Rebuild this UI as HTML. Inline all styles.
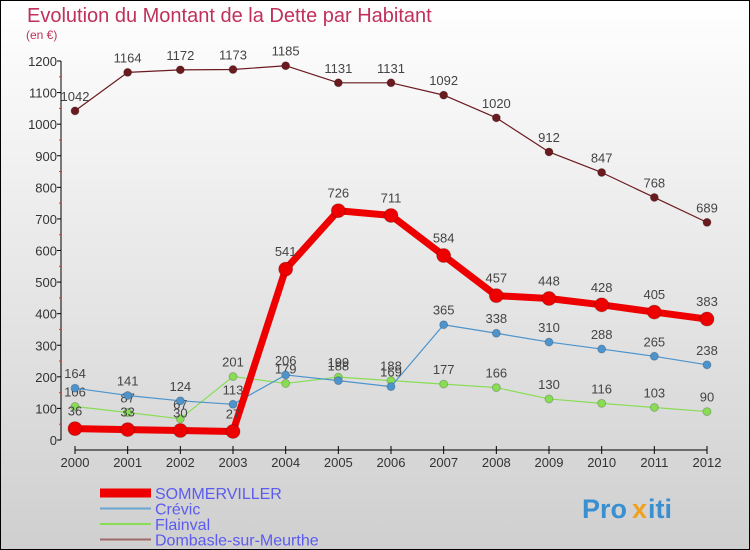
<!DOCTYPE html>
<html><head><meta charset="utf-8"><style>
body{margin:0}
#c{width:750px;height:550px;position:relative;box-sizing:border-box;border:1px solid #000;background:linear-gradient(#ffffff,#cfcfcf);font-family:"Liberation Sans",sans-serif;overflow:hidden}
</style></head><body>
<div id="c">
<svg id="s" width="750" height="550" style="position:absolute;left:-1px;top:-1px"></svg>
</div>
<script>
const years=[2000,2001,2002,2003,2004,2005,2006,2007,2008,2009,2010,2011,2012];
const yTicks=[0,100,200,300,400,500,600,700,800,900,1000,1100,1200];
const sommerviller=[36,33,30,27,541,726,711,584,457,448,428,405,383];
const crevic=[164,141,124,113,206,188,169,365,338,310,288,265,238];
const flainval=[106,87,67,201,179,199,188,177,166,130,116,103,90];
const dombasle=[1042,1164,1172,1173,1185,1131,1131,1092,1020,912,847,768,689];
const NS="http://www.w3.org/2000/svg";
const s=document.getElementById('s');
const xs=i=>75+i*(707-75)/12;
const ys=v=>440-v*(440-61)/1200;
function el(t,a,p){const e=document.createElementNS(NS,t);for(const k in a)e.setAttribute(k,a[k]);(p||s).appendChild(e);return e;}
function tx(x,y,str,a,p){const e=el('text',Object.assign({x:x,y:y},a),p);e.textContent=str;return e;}
let t=tx(27,22,'Evolution du Montant de la Dette par Habitant',{'font-size':20,fill:'#c0305a'});

t=tx(26,39,'(en €)',{'font-size':12,fill:'#c0305a'});

let a=el('line',{x1:61,y1:61,x2:61,y2:440,stroke:'#000'});
yTicks.forEach(v=>{el('line',{x1:57,x2:61,y1:ys(v),y2:ys(v),stroke:'#000'});
 if(v<1200)el('line',{x1:59,x2:61,y1:ys(v+50),y2:ys(v+50),stroke:'#e03030'});
 const l=tx(57,ys(v)+5,String(v),{'font-size':13,fill:'#333','text-anchor':'end'});
 });
a=el('line',{x1:75,y1:450,x2:707,y2:450,stroke:'#000'});
years.forEach((y,i)=>{el('line',{x1:xs(i),x2:xs(i),y1:446,y2:454,stroke:'#000'});
 const l=tx(xs(i),467,String(y),{'font-size':13,fill:'#333','text-anchor':'middle'});
 });
function series(d,color,w,r,name){
 const g=el('g',{});
 el('polyline',{points:d.map((v,i)=>xs(i)+','+ys(v)).join(' '),fill:'none',stroke:color,'stroke-width':w,'stroke-linejoin':'round'},g);
 d.forEach((v,i)=>{const c=el('circle',{cx:xs(i),cy:ys(v),r:r,fill:color,stroke:'rgba(0,0,0,0.2)'},g);
  
  const l=tx(xs(i),ys(v)-(r+6),String(v),{'font-size':13,fill:'#444','text-anchor':'middle'},g);
  });
}
series(flainval,'#88dd55',1.2,4,'flainval');
series(crevic,'#4d94cc',1.2,4,'crevic');
series(dombasle,'#6b1a1f',1.2,4,'dombasle');
series(sommerviller,'#ee0000',7,7,'sommerviller');
const leg=[['SOMMERVILLER','#ee0000',9],['Crévic','#6aa6d0',2],['Flainval','#88dd55',2],['Dombasle-sur-Meurthe','#a06a6a',2]];
leg.forEach((L,i)=>{const y=493+i*15.5;const g=el('g',{});
 el('line',{x1:100,x2:151,y1:y,y2:y,stroke:L[1],'stroke-width':L[2]},g);
 tx(155,y+6,L[0],{'font-size':16,fill:'#5b5bf0'},g);});
const p=el('g',{});
tx(582,518,'Pro',{'font-size':27,fill:'#3a8fd0','font-weight':'bold'},p);
tx(632,518,'x',{'font-size':27,fill:'#f0a020','font-weight':'bold'},p);
tx(648,518,'iti',{'font-size':27,fill:'#3a8fd0','font-weight':'bold'},p);
</script>
</body></html>
